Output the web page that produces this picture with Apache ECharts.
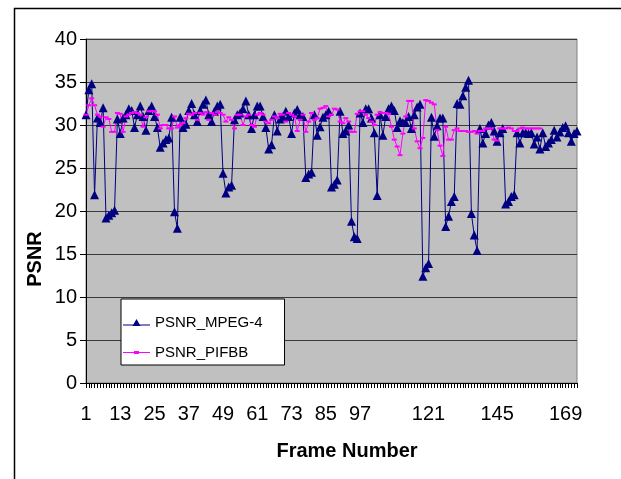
<!DOCTYPE html>
<html>
<head>
<meta charset="UTF-8">
<title>PSNR</title>
<script src="https://cdn.jsdelivr.net/npm/echarts@6/dist/echarts.min.js"></script>
<style>
  html,body{margin:0;padding:0;background:#fff;}
  #main{width:621px;height:479px;}
</style>
</head>
<body>
<div id="main"></div>
<script>
// PSNR per frame
var mpeg4 = [31.2,34.1,34.8,21.9,30.8,30.3,32.0,19.2,19.5,19.8,
  20.1,30.7,29.0,30.8,31.2,31.9,31.7,29.7,31.2,32.2,
  31.0,29.4,31.7,32.2,31.0,29.7,27.4,27.9,28.3,28.5,
  30.9,19.9,18.0,30.9,29.7,30.1,31.7,32.5,31.2,30.4,
  31.7,32.4,32.9,31.2,30.4,31.6,32.2,32.4,24.4,22.1,
  22.8,23.0,30.6,31.2,31.4,31.9,32.8,31.2,29.6,31.2,
  32.2,32.2,31.0,29.7,27.2,27.7,31.2,29.3,30.7,31.0,
  31.6,31.0,29.0,31.4,31.8,31.2,31.0,23.9,24.3,24.5,
  31.2,28.8,29.8,30.9,31.2,31.6,22.8,23.1,23.6,31.6,
  29.0,29.3,30.0,18.8,17.0,16.8,31.4,30.3,31.9,31.9,
  30.8,29.1,21.8,31.2,28.8,31.0,31.9,32.2,31.7,29.7,
  30.5,30.3,30.3,31.0,29.6,31.2,32.1,32.4,12.4,13.4,
  13.9,30.9,28.7,29.9,30.8,30.8,18.2,19.4,21.1,21.7,
  32.5,32.4,33.4,34.4,35.2,19.7,17.2,15.4,29.6,27.9,
  29.0,30.0,30.3,29.3,28.1,29.1,29.6,20.8,21.1,21.7,
  21.9,29.1,27.9,29.1,29.1,29.0,29.1,27.8,28.6,27.2,
  29.1,27.5,27.9,28.3,29.4,28.6,29.2,29.7,29.9,29.1,
  28.1,29.0,29.3];

var pifbb = [31.2,32.3,33.1,32.3,31.2,31.0,29.8,30.9,30.7,29.2,
  29.2,31.4,31.3,29.2,31.0,31.2,31.4,31.5,31.4,31.2,
  29.8,30.9,31.6,31.6,31.6,31.2,29.6,30.0,30.0,29.6,
  29.6,31.0,29.7,30.0,30.2,30.8,31.3,31.2,31.4,30.6,
  31.4,31.2,31.5,30.6,31.4,31.2,31.5,31.4,31.2,30.4,
  30.9,30.6,29.6,31.2,31.2,30.0,31.0,31.2,30.0,29.8,
  31.2,31.4,31.2,30.4,30.2,30.6,31.0,30.8,31.3,31.2,
  30.4,31.4,31.2,31.0,29.3,30.6,31.2,29.2,30.4,31.4,
  30.6,30.8,31.9,32.0,32.2,31.0,31.2,31.9,31.8,30.4,
  30.2,30.8,30.4,29.2,29.2,31.3,31.6,31.6,31.2,30.8,
  30.4,30.0,31.2,31.5,31.4,31.4,31.3,29.8,28.3,27.5,
  26.5,29.0,31.0,32.8,32.8,29.6,28.1,27.3,28.5,32.9,
  32.8,32.6,32.4,29.4,27.6,26.4,29.8,28.3,28.3,29.4,
  29.6,29.3,29.3,29.3,29.2,29.2,29.3,29.0,29.3,29.3,
  29.6,29.6,29.6,28.3,28.2,29.6,29.6,29.6,29.7,29.6,
  29.3,29.3,29.6,29.7,29.6,29.6,29.6,29.6,29.6,29.6];

var frames = [];
for (var i = 1; i <= mpeg4.length; i++) frames.push(String(i));
var hiddenLabels = [108, 132, 156]; // excel dropped these

var myChart = echarts.init(document.getElementById('main'));
var option = {
  animation: false,
  backgroundColor: '#fff',
  textStyle: {fontFamily: 'Liberation Sans, Arial, sans-serif'},
  grid: {
    left: 86, top: 39, right: 44, bottom: 96,
    show: true, backgroundColor: '#c0c0c0', borderColor: '#808080', borderWidth: 1
  },
  legend: {
    left: 121, top: 299,
    orient: 'vertical',
    backgroundColor: '#fff',
    borderColor: '#000',
    borderWidth: 1,
    padding: [16, 22, 5, 2],
    itemGap: 15,
    itemWidth: 27,
    itemHeight: 9,
    textStyle: {color: '#000', fontSize: 15, fontFamily: 'Liberation Sans, Arial, sans-serif'},
    data: [
      {name: 'PSNR_MPEG-4', icon: 'path://M0,5.5 L27,5.5 L27,6.5 L0,6.5 Z M13.5,0 L17.5,7 L9.5,7 Z'},
      {name: 'PSNR_PIFBB', icon: 'path://M0,1 L27,1 L27,2 L0,2 Z M11,0 L16,0 L16,3 L11,3 Z'}
    ]
  },
  xAxis: {
    type: 'category',
    data: frames,
    boundaryGap: false,
    axisLine: {lineStyle: {color: '#000', width: 1}},
    axisTick: {show: true, interval: 0, length: 5, lineStyle: {color: '#000'}},
    axisLabel: {
      color: '#000', fontSize: 20, margin: 21,
      interval: function (idx) { return idx % 12 === 0 && hiddenLabels.indexOf(idx) < 0; }
    },
    splitLine: {show: false}
  },
  yAxis: {
    type: 'value',
    min: 0, max: 40, interval: 5,
    axisLine: {show: true, lineStyle: {color: '#000', width: 1}},
    axisTick: {show: true, length: 6, lineStyle: {color: '#000'}},
    axisLabel: {color: '#000', fontSize: 20, margin: 9},
    splitLine: {show: true, lineStyle: {color: '#3a3a3a', width: 1}}
  },
  series: [{
    name: 'PSNR_MPEG-4',
    type: 'line',
    data: mpeg4,
    symbol: 'triangle',
    symbolSize: 9,
    showAllSymbol: true,
    lineStyle: {color: '#000080', width: 1},
    itemStyle: {color: '#000080'}
  }, {
    name: 'PSNR_PIFBB',
    type: 'line',
    data: pifbb,
    symbol: 'rect',
    symbolSize: [5, 2],
    showAllSymbol: true,
    lineStyle: {color: '#ff00ff', width: 1},
    itemStyle: {color: '#ff00ff'}
  }],
  graphic: [{
    type: 'rect',
    shape: {x: 14.5, y: 8.5, width: 700, height: 600},
    style: {fill: 'none', stroke: '#000', lineWidth: 1.5},
    silent: true
  }, {
    type: 'text',
    x: 347, y: 451,
    style: {text: 'Frame Number', fill: '#000', font: 'bold 20px Liberation Sans, Arial, sans-serif',
      textAlign: 'center', textVerticalAlign: 'middle'}
  }, {
    type: 'text',
    x: 35, y: 259,
    rotation: Math.PI / 2,
    style: {text: 'PSNR', fill: '#000', font: 'bold 20px Liberation Sans, Arial, sans-serif',
      textAlign: 'center', textVerticalAlign: 'middle'}
  }]
};
myChart.setOption(option);
</script>
</body>
</html>
